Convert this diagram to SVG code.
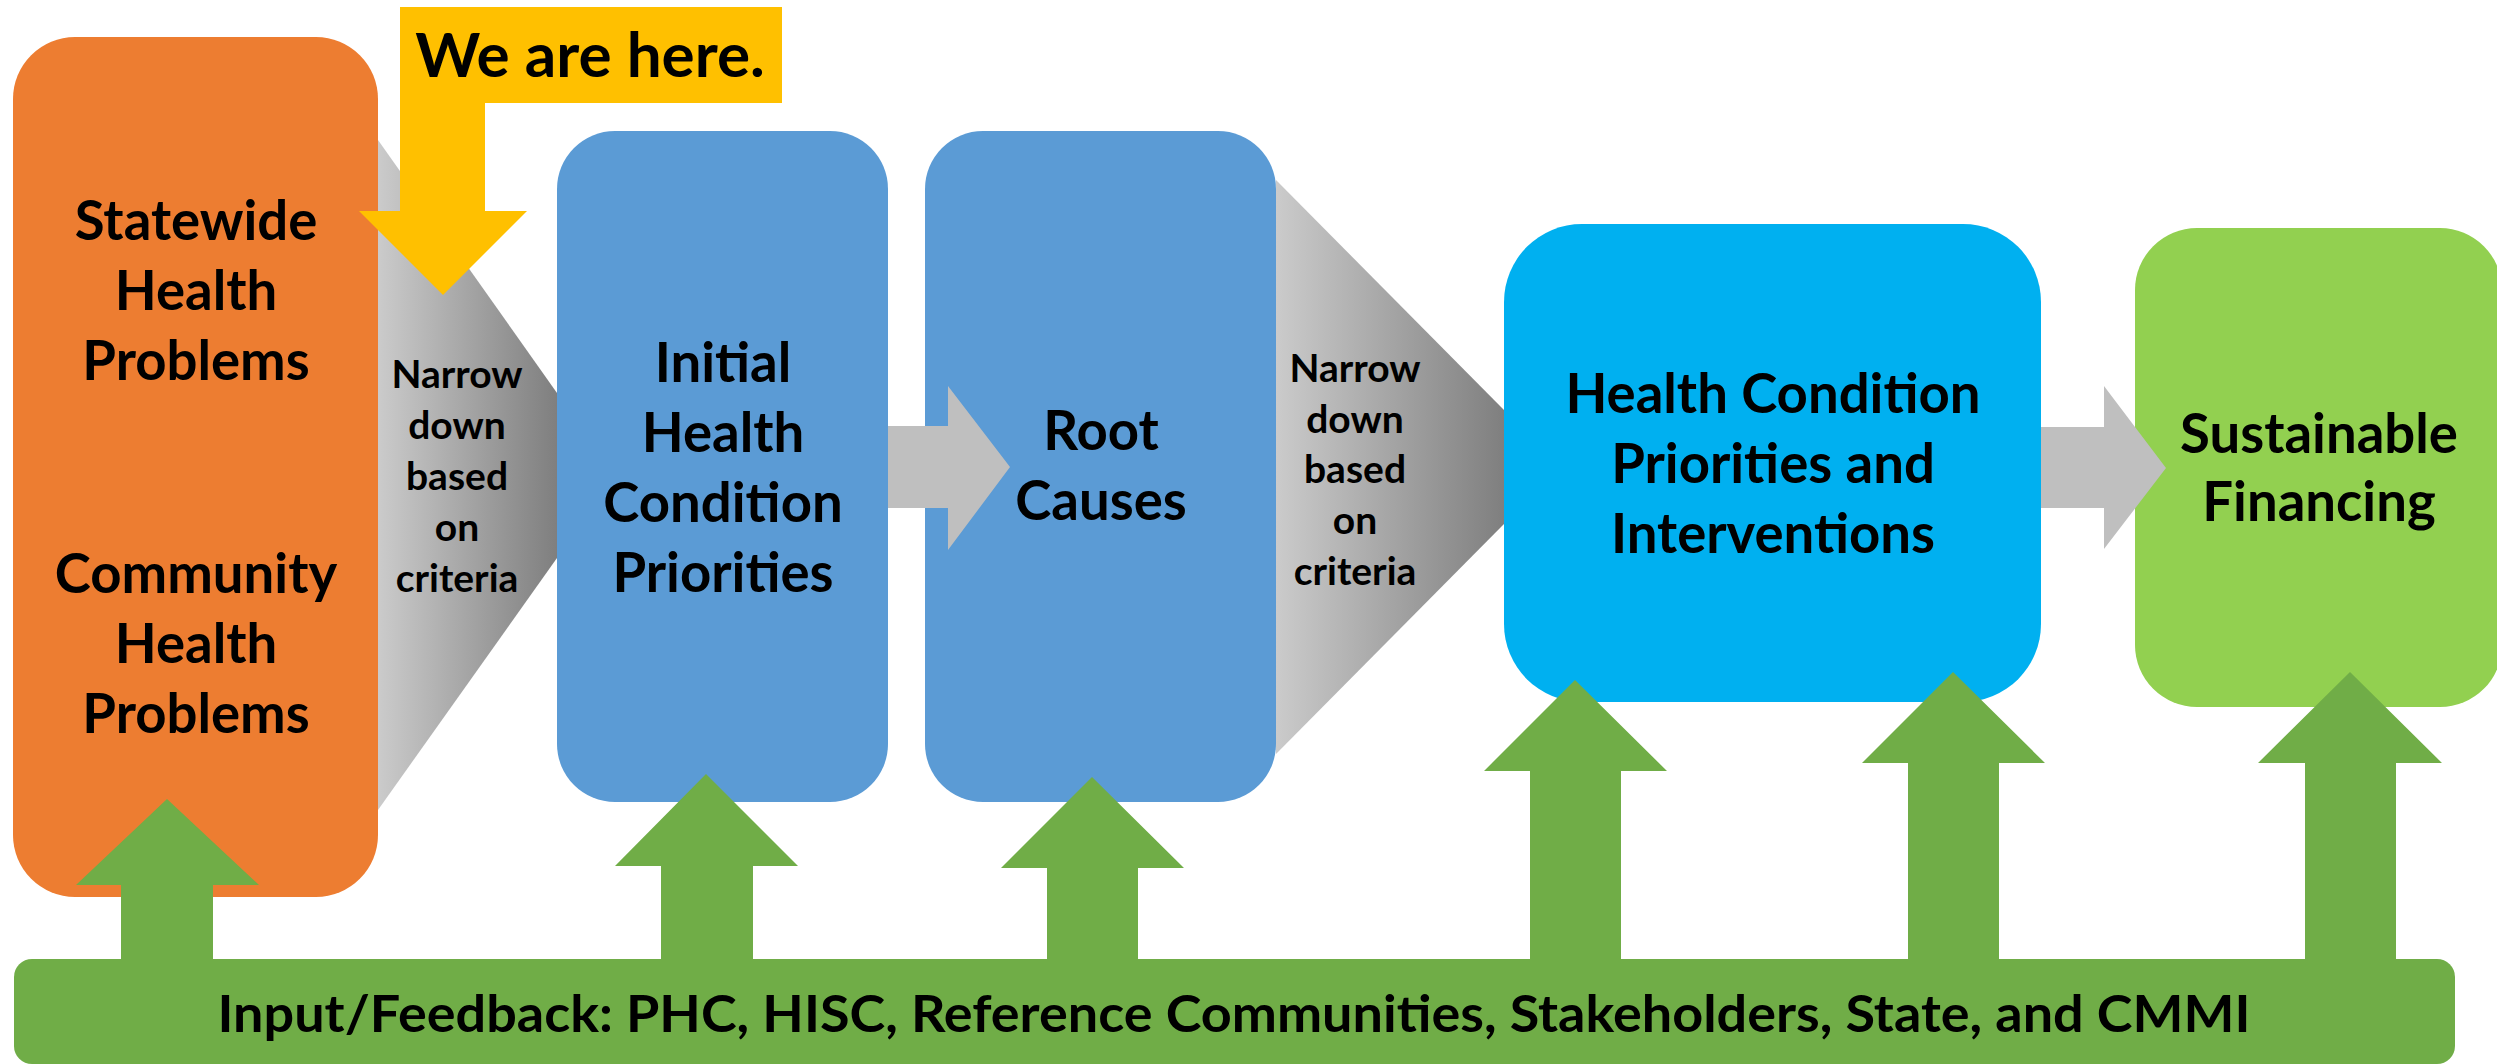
<svg xmlns="http://www.w3.org/2000/svg" width="2497" height="1064" viewBox="0 0 2497 1064">
<defs>
<linearGradient id="funnelGrad" x1="0" y1="0" x2="1" y2="0">
<stop offset="0" stop-color="#cbcbcb"/>
<stop offset="1" stop-color="#7f7f7f"/>
</linearGradient>
</defs>
<style>
.lbl { font-family: Lato, "Open Sans", "Liberation Sans", sans-serif; font-weight: bold; fill: #000; text-anchor: middle; }
.big { font-size: 54.5px; }
.small { font-size: 39px; }
.bar { font-size: 52.5px; }
.callout { font-size: 62px; }
.green { fill: #70ad47; }
.grayarrow { fill: #bfbfbf; }
.funnel { fill: url(#funnelGrad); }
</style>
<rect width="2497" height="1064" fill="#ffffff"/>

<g id="node-statewide">
<rect x="13" y="37" width="365" height="860" rx="62" ry="62" fill="#ed7d31"/>
<text class="lbl big" x="196" y="240">Statewide</text>
<text class="lbl big" x="196" y="310">Health</text>
<text class="lbl big" x="196" y="380">Problems</text>
<text class="lbl big" x="196" y="593">Community</text>
<text class="lbl big" x="196" y="663">Health</text>
<text class="lbl big" x="196" y="733">Problems</text>
</g>

<g id="node-initial">
<rect x="557" y="131" width="331" height="671" rx="58" ry="58" fill="#5b9bd5"/>
<text class="lbl big" x="723" y="382">Initial</text>
<text class="lbl big" x="723" y="452">Health</text>
<text class="lbl big" x="723" y="522">Condition</text>
<text class="lbl big" x="723" y="592">Priorities</text>
</g>

<g id="node-root">
<rect x="925" y="131" width="351" height="671" rx="58" ry="58" fill="#5b9bd5"/>
<text class="lbl big" x="1101" y="450">Root</text>
<text class="lbl big" x="1101" y="520">Causes</text>
</g>

<g id="node-priorities">
<rect x="1504" y="224" width="537" height="478" rx="78" ry="78" fill="#00b0f0"/>
<text class="lbl big" x="1773" y="413">Health Condition</text>
<text class="lbl big" x="1773" y="483">Priorities and</text>
<text class="lbl big" x="1773" y="553">Interventions</text>
</g>

<g id="node-financing">
<rect x="2135" y="228" width="367" height="479" rx="62" ry="62" fill="#92d050"/>
<text class="lbl big" x="2319" y="453">Sustainable</text>
<text class="lbl big" x="2319" y="521">Financing</text>
</g>

<g id="node-feedback">
<rect x="14" y="959" width="2441" height="105" rx="18" ry="18" fill="#70ad47"/>
<text class="lbl bar" x="1234" y="1032" textLength="2033" lengthAdjust="spacingAndGlyphs">Input/Feedback: PHC, HISC, Reference Communities, Stakeholders, State, and CMMI</text>
</g>

<g id="connectors">
<polygon class="funnel" points="378,140 557,393 557,558 378,810"/>
<text class="lbl small" x="457" y="388">Narrow</text>
<text class="lbl small" x="457" y="439">down</text>
<text class="lbl small" x="457" y="490">based</text>
<text class="lbl small" x="457" y="541">on</text>
<text class="lbl small" x="457" y="592">criteria</text>

<polygon class="funnel" points="1276,180 1504,410 1504,524 1276,754"/>
<text class="lbl small" x="1355" y="382">Narrow</text>
<text class="lbl small" x="1355" y="433">down</text>
<text class="lbl small" x="1355" y="483">based</text>
<text class="lbl small" x="1355" y="534">on</text>
<text class="lbl small" x="1355" y="585">criteria</text>

<polygon class="grayarrow" points="888,426 948,426 948,386 1010,467 948,550 948,508 888,508"/>
<polygon class="grayarrow" points="2041,427 2104,427 2104,386 2166,468 2104,549 2104,508 2041,508"/>

<polygon class="green" points="167,799 259,885 213,885 213,962 121,962 121,885 76,885"/>
<polygon class="green" points="706,774 798,866 753,866 753,962 661,962 661,866 615,866"/>
<polygon class="green" points="1092,777 1184,868 1138,868 1138,962 1047,962 1047,868 1001,868"/>
<polygon class="green" points="1575,680 1667,771 1621,771 1621,962 1530,962 1530,771 1484,771"/>
<polygon class="green" points="1953,672 2045,763 1999,763 1999,962 1908,962 1908,763 1862,763"/>
<polygon class="green" points="2350,672 2442,763 2396,763 2396,962 2305,962 2305,763 2258,763"/>
</g>

<g id="node-callout">
<polygon points="400,7 782,7 782,103 485,103 485,211 527,211 443,295 359,211 400,211" fill="#ffc000"/>
<text class="lbl callout" x="590" y="77">We are here.</text>
</g>
</svg>
